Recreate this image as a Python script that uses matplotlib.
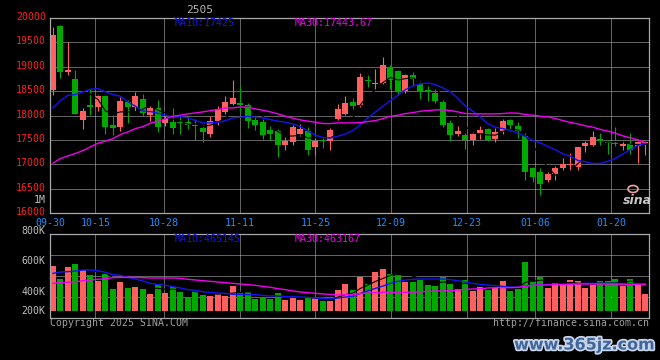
import numpy as np
import matplotlib
matplotlib.use('Agg')
import matplotlib.pyplot as plt
from matplotlib.transforms import ScaledTranslation
import matplotlib.patheffects as pe
from matplotlib.patches import Ellipse

# ---------------- data ----------------
dates = ['09-30',
         '10-08', '10-09', '10-10', '10-11', '10-14', '10-15', '10-16', '10-17', '10-18',
         '10-21', '10-22', '10-23', '10-24', '10-25', '10-28', '10-29', '10-30', '10-31',
         '11-01', '11-04', '11-05', '11-06', '11-07', '11-08', '11-11', '11-12', '11-13',
         '11-14', '11-15', '11-18', '11-19', '11-20', '11-21', '11-22', '11-25', '11-26',
         '11-27', '11-28', '11-29',
         '12-02', '12-03', '12-04', '12-05', '12-06', '12-09', '12-10', '12-11', '12-12',
         '12-13', '12-16', '12-17', '12-18', '12-19', '12-20', '12-23', '12-24', '12-25',
         '12-26', '12-27', '12-30', '12-31',
         '01-02', '01-03', '01-06', '01-07', '01-08', '01-09', '01-10', '01-13', '01-14',
         '01-15', '01-16', '01-17', '01-20', '01-21', '01-22', '01-23', '01-24', '01-27']

opens = [18532, 19829, 18887, 18757, 17917, 18224, 18170, 18395, 17814, 17773,
         18279, 18170, 18347, 18006, 18156, 17842, 17862, 17855, 17862, 17800,
         17746, 17630, 17883, 18067, 18238, 18265, 18224, 17917, 17862, 17712,
         17678, 17405, 17452, 17630, 17691, 17350, 17493, 17473, 17937, 18033,
         18279, 18211, 18705, 18645, 18668, 18989, 18921, 18511, 18839, 18648,
         18500, 18463, 18279, 17849, 17630, 17610, 17493, 17644, 17732, 17528,
         17691, 17917, 17794, 17589, 16926, 16838, 16687, 16804, 16913, 16981,
         16940, 17370, 17405, 17528, 17442, 17422, 17370, 17418, 17370, 17430]
highs = [19809, 19863, 19501, 18941, 18156, 18552, 18429, 18429, 18019, 18374,
         18327, 18484, 18450, 18190, 18327, 17985, 18156, 17985, 17985, 17937,
         17814, 17985, 18190, 18395, 18736, 18600, 18258, 17985, 17937, 17794,
         17732, 17569, 17801, 17828, 17760, 17528, 17541, 17746, 18238, 18409,
         18361, 18873, 18839, 18962, 19194, 19044, 18941, 18852, 18893, 18702,
         18613, 18552, 18327, 17917, 17794, 17644, 17664, 17794, 17746, 17746,
         17931, 17931, 17862, 17644, 16940, 16913, 16838, 16961, 17131, 17234,
         17364, 17473, 17691, 17644, 17507, 17767, 17507, 17644, 17487, 17470]
lows = [18415, 18771, 18825, 18030, 17732, 18019, 18088, 17630, 17610, 17678,
        17849, 18088, 17985, 17896, 17664, 17780, 17630, 17623, 17732, 17507,
        17452, 17555, 17801, 18033, 18224, 18074, 17746, 17712, 17528, 17507,
        17145, 17302, 17391, 17575, 17186, 17200, 17336, 17302, 17917, 18006,
        18142, 18170, 18579, 18531, 18648, 18552, 18429, 18463, 18600, 18347,
        18306, 18258, 17760, 17487, 17575, 17323, 17405, 17528, 17473, 17452,
        17623, 17732, 17541, 16674, 16633, 16366, 16633, 16674, 16892, 16858,
        16892, 17247, 17370, 17370, 17213, 17370, 17302, 17213, 17029, 17200]
closes = [19658, 18887, 18941, 18040, 18101, 18170, 18395, 17760, 17739, 18306,
          18170, 18395, 18047, 18156, 17760, 17931, 17739, 17848, 17814, 17794,
          17657, 17896, 18142, 18279, 18361, 18211, 17896, 17801, 17610, 17630,
          17405, 17473, 17773, 17732, 17302, 17473, 17487, 17712, 18142, 18258,
          18204, 18784, 18700, 18650, 19044, 18736, 18511, 18839, 18757, 18511,
          18497, 18306, 17814, 17596, 17678, 17493, 17630, 17712, 17493, 17657,
          17896, 17814, 17678, 16838, 16735, 16605, 16790, 16913, 16995, 17008,
          17364, 17432, 17569, 17473, 17438, 17418, 17425, 17302, 17452, 17445]
ma10 = [18156, 18306, 18415, 18429, 18484, 18538, 18552, 18484, 18429, 18395,
        18279, 18190, 18088, 18081, 18047, 18006, 17978, 17978, 17951, 17896,
        17849, 17849, 17855, 17896, 17951, 17965, 17980, 17965, 17951, 17917,
        17883, 17862, 17828, 17773, 17678, 17596, 17548, 17541, 17575, 17623,
        17691, 17814, 17951, 18074, 18190, 18306, 18415, 18532, 18607, 18648,
        18668, 18634, 18566, 18484, 18347, 18190, 18088, 17965, 17828, 17760,
        17732, 17691, 17637, 17569, 17487, 17439, 17364, 17295, 17213, 17166,
        17077, 17049, 17015, 17015, 17063, 17118, 17213, 17302, 17388, 17425]
ma30 = [17022, 17118, 17172, 17220, 17282, 17357, 17432, 17473, 17528, 17610,
        17664, 17732, 17773, 17842, 17883, 17931, 17985, 18006, 18033, 18053,
        18074, 18101, 18122, 18156, 18156, 18176, 18170, 18135, 18108, 18074,
        18033, 17985, 17944, 17910, 17883, 17862, 17835, 17835, 17849, 17849,
        17849, 17855, 17876, 17896, 17937, 17985, 18006, 18040, 18060, 18088,
        18101, 18115, 18115, 18100, 18074, 18040, 18033, 18033, 18033, 18033,
        18040, 18053, 18047, 18019, 18006, 17985, 17972, 17937, 17896, 17855,
        17828, 17787, 17760, 17712, 17678, 17637, 17582, 17541, 17500, 17443.67]
volumes = [561000, 477000, 557000, 574000, 535500, 503000, 467000, 510000, 413000, 460000,
           419000, 426000, 413000, 383000, 445000, 389000, 426000, 394000, 363500, 406500,
           376000, 370000, 383000, 370000, 434500, 394000, 394000, 350600, 357000, 350600,
           387000, 344000, 357000, 344000, 363500, 359000, 337700, 337700, 406500, 445000,
           406500, 490000, 445000, 522600, 542000, 510000, 510000, 458000, 458000, 471000,
           439000, 432000, 490000, 445000, 413000, 471000, 400000, 426000, 406500, 419000,
           464500, 400000, 413000, 587000, 458000, 490000, 419000, 451600, 445000, 471000,
           464500, 419000, 439000, 464500, 464500, 477000, 432000, 477000, 445000, 380700]
vol_ma10 = [514000, 522600, 524800, 529000, 535500, 535500, 531000, 520500, 505400, 501000,
            488000, 477500, 464500, 449500, 441000, 436600, 428000, 419400, 408600, 404000,
            395700, 391500, 387000, 385000, 378500, 378500, 376400, 376400, 372000, 367800,
            370000, 363500, 363500, 361300, 359000, 355000, 352700, 348500, 355000, 361300,
            365600, 385000, 402000, 417000, 432000, 449500, 462400, 471000, 475300, 477500,
            477500, 477500, 477500, 473000, 466700, 458000, 449500, 443000, 438800, 434500,
            430000, 426000, 423700, 432000, 436600, 441000, 443000, 445000, 445000, 447000,
            447000, 449500, 449500, 449500, 449500, 449500, 447000, 447000, 447000, 445000]
vol_ma30 = [449500, 453800, 456000, 460000, 466700, 471000, 475300, 479600, 486000, 488000,
            488000, 488000, 486000, 484000, 484000, 484000, 484000, 481800, 475300, 471000,
            466700, 462400, 458000, 453800, 449500, 445000, 441000, 436600, 430000, 423700,
            415000, 408600, 400000, 393600, 389300, 385000, 380700, 378500, 374300, 376400,
            378500, 382900, 387000, 389300, 391500, 391500, 391500, 391500, 393600, 393600,
            398000, 400000, 400000, 402200, 406500, 410800, 413000, 415000, 419400, 421500,
            421500, 421500, 423700, 430000, 436600, 438800, 438800, 441000, 441000, 443000,
            445000, 445000, 445000, 445000, 445000, 445000, 443000, 443000, 443000, 443000]
vol_ma10_label = 465145
vol_ma30_label = 463167

date_ticks = ['09-30', '10-15', '10-28', '11-11', '11-25', '12-09', '12-23', '01-06', '01-20']
price_ticks = [16000, 16500, 17000, 17500, 18000, 18500, 19000, 19500, 20000]
vol_tick_labels = ['800K', '600K', '400K', '200K']
vol_tick_values = [800000, 600000, 400000, 200000]
contract = '2505'

# ---------------- style ----------------
W, H = 660, 360
RED = '#FF5F5F'
GREEN = '#00A800'
BLUE = '#1414F0'
MAGENTA = '#F000F0'
GRID = '#C4C4C4'
FRAME = '#A8A8A8'
MONO = 'DejaVu Sans Mono'
FS = 7.1

fig = plt.figure(figsize=(W / 100, H / 100), dpi=100, facecolor='black')


def rect(l, t, r, b):
    return [l / W, 1 - b / H, (r - l) / W, (b - t) / H]


axp = fig.add_axes(rect(50, 18, 649, 213))
axv = fig.add_axes(rect(50, 234, 649, 318))

n = len(dates)
x = np.arange(n)
o = np.array(opens, float)
c = np.array(closes, float)
h = np.array(highs, float)
lo = np.array(lows, float)
up = c >= o
cols = np.where(up, RED, GREEN)

x0, x1 = -0.4, 79.47
# grid positions (chart spreads date grid over the full panel width)
tick_idx = [dates.index(d) for d in date_ticks]
tick_pos = [x0 + i * (x1 - x0) / (n - 1) for i in tick_idx]

for ax in (axp, axv):
    ax.set_facecolor('black')
    ax.set_xlim(x0, x1)
    for s in ax.spines.values():
        s.set_color(FRAME)
        s.set_linewidth(0.9)
        s.set_zorder(6)
    ax.tick_params(length=0)

# ---- price panel ----
axp.vlines(x, lo, h, colors=cols, linewidth=0.8, zorder=2)
body_b = np.minimum(o, c)
body_h = np.maximum(np.abs(c - o), 18)
axp.bar(x, body_h, bottom=body_b, width=0.8, color=cols, linewidth=0, zorder=3)

ma5 = np.convolve(c, np.ones(5) / 5, mode='valid')
axp.plot(x[4:], ma5, color='black', lw=0.8, zorder=4)
axp.plot(x, ma10, color=BLUE, lw=1.0, zorder=5)
axp.plot(x, ma30, color=MAGENTA, lw=1.0, zorder=5)

axp.set_ylim(price_ticks[0], price_ticks[-1])
axp.set_yticks(price_ticks)
axp.set_yticklabels([str(p) for p in price_ticks], color='#FF2020', family=MONO, fontsize=FS)
axp.tick_params(axis='y', pad=3)
shift = ScaledTranslation(0, 2 / 100, fig.dpi_scale_trans)
for lab in axp.get_yticklabels():
    lab.set_transform(lab.get_transform() + shift)
axp.set_xticks(tick_pos)
axp.set_xticklabels(date_ticks, color='#1E90FF', family=MONO, fontsize=FS)
axp.tick_params(axis='x', pad=3.5)
for yv in price_ticks[1:-1]:
    axp.axhline(yv, color=GRID, lw=0.72, ls=(0, (1, 1)), zorder=1)
for xv in tick_pos[1:]:
    axp.axvline(xv, color=GRID, lw=0.72, ls=(0, (1, 1)), zorder=1)

# ---- volume panel ----
vlo, vhi = 225900, 767700
vbase = 271000
v = np.array(volumes, float)
axv.bar(x, v - vbase, bottom=vbase, width=0.8, color=cols, linewidth=0, zorder=3)
vma5 = np.convolve(v, np.ones(5) / 5, mode='valid')
axv.plot(x[4:], vma5, color='black', lw=0.8, zorder=4)
axv.plot(x, vol_ma10, color=BLUE, lw=1.0, zorder=5)
axv.plot(x, vol_ma30, color=MAGENTA, lw=1.0, zorder=5)
axv.set_ylim(vlo, vhi)
axv.set_xticks([])
axv.set_yticks(vol_tick_values[1:3])
axv.set_yticklabels(vol_tick_labels[1:3], color='#BEBEBE', family=MONO, fontsize=FS)
axv.tick_params(axis='y', pad=3)
ytr = axv.get_yaxis_transform()
# top label sits just above the panel frame, bottom label at the bar base
axv.text(-0.008, 1.04, vol_tick_labels[0], transform=axv.transAxes, ha='right', va='center',
         color='#BEBEBE', family=MONO, fontsize=FS, clip_on=False)
axv.text(-0.008, vbase, vol_tick_labels[3], transform=ytr, ha='right', va='center',
         color='#BEBEBE', family=MONO, fontsize=FS, clip_on=False)
for f in (0.25, 0.5, 0.75):
    axv.axhline(vlo + f * (vhi - vlo), color=GRID, lw=0.72, ls=(0, (1, 1)), zorder=1)
for xv in tick_pos[1:]:
    axv.axvline(xv, color=GRID, lw=0.72, ls=(0, (1, 1)), zorder=1)

# ---- texts ----
def ftext(px, py, s, **kw):
    kw.setdefault('family', MONO)
    kw.setdefault('fontsize', FS)
    kw.setdefault('va', 'center')
    fig.text(px / W, 1 - py / H, s, **kw)


ftext(200, 10, contract, color='#B4B4B4', ha='center', fontsize=8)
ftext(175, 23, f"MA10:{ma10[-1]:.0f}", color=BLUE)
ftext(295, 23, f"MA30:{ma30[-1]:.2f}", color=MAGENTA)
ftext(175, 239, f"MA10:{vol_ma10_label}", color=BLUE)
ftext(295, 239, f"MA30:{vol_ma30_label}", color=MAGENTA)
ftext(46, 200, '1M', color='#BEBEBE', ha='right')
ftext(50, 323, 'Copyright 2025 SINA.COM', color='#A0A0A0', ha='left')
ftext(649, 323, 'http://finance.sina.com.cn', color='#A0A0A0', ha='right')

# sina logo
fig.text(637 / W, 1 - 200 / H, 'sina', color='#C8C8C8', fontsize=9, fontweight='bold',
         style='italic', ha='center', va='center', family='DejaVu Sans')
fig.add_artist(Ellipse((633 / W, 1 - 189 / H), 10 / W, 7 / H, transform=fig.transFigure,
                       fill=False, edgecolor='#F4A0A0', lw=1.2))

# watermark
fig.text(655 / W, 1 - 345 / H, 'www.365jz.com', color='#3F679E', fontsize=11.5,
         fontweight='bold', ha='right', va='center', family='DejaVu Sans',
         path_effects=[pe.withStroke(linewidth=2.5, foreground='#C9D6EA')])

fig.savefig('out.png', dpi=100, facecolor='black')
